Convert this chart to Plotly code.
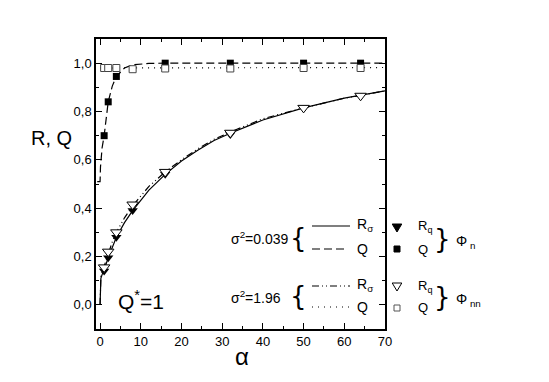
import plotly.graph_objects as go

# experimental points
alpha_sq_filled = [1, 2, 4, 16, 32, 50, 64]
q_sq_filled = [0.70, 0.84, 0.945, 1.0, 1.0, 1.0, 1.0]
alpha_sq_open = [1, 2, 4, 8, 16, 32, 50, 64]
q_sq_open = [0.98, 0.98, 0.98, 0.975, 0.978, 0.978, 0.98, 0.98]
alpha_tri_filled = [1, 2, 4, 8, 16, 32]
r_tri_filled = [0.14, 0.195, 0.28, 0.39, 0.54, 0.705]
alpha_tri_open = [1, 2, 4, 8, 16, 32, 50, 64]
r_tri_open = [0.155, 0.22, 0.30, 0.415, 0.55, 0.712, 0.815, 0.865]

# model curves
alpha_r = [0, 0.05, 0.2, 0.5, 1, 1.5, 2, 3, 4, 6, 8, 12, 16, 20, 24, 28, 32, 40, 50, 60, 70]
r_sigma_small = [0, 0.08, 0.11, 0.125, 0.145, 0.17, 0.195, 0.24, 0.28, 0.34, 0.39, 0.475, 0.54,
                 0.595, 0.64, 0.68, 0.71, 0.765, 0.815, 0.855, 0.885]
r_sigma_large = [0, 0.09, 0.12, 0.135, 0.16, 0.19, 0.215, 0.26, 0.30, 0.36, 0.41, 0.49, 0.55,
                 0.60, 0.645, 0.685, 0.715, 0.77, 0.815, 0.855, 0.885]
alpha_q = [-0.7, 0, 0.1, 0.25, 0.5, 1, 1.5, 2, 3, 4, 6, 8, 12, 16, 32, 50, 70]
q_small = [0.51, 0.51, 0.57, 0.61, 0.65, 0.70, 0.78, 0.84, 0.905, 0.945, 0.98, 0.993, 0.999,
           1.0, 1.0, 1.0, 1.0]
alpha_q_large = [0, 70]
q_large = [0.98, 0.982]

FONT = "Liberation Sans, Arial, sans-serif"
DASH = "8px,4px"
DOT = "1px,5px"
DASHDOT = "7px,3px,1px,3px,1px,3px"

# the page body has an 8px margin, so the figure is drawn 8px smaller
OFF = 8
W, H = 549 - OFF, 382 - OFF
# plot area in window pixels
L, R, T, B = 96, 385, 39, 329


def px(x, y):
    # window pixel position -> paper coordinates
    return (x - L) / (R - L), (B - y) / (B - T)


fig = go.Figure()

fig.add_trace(go.Scatter(x=alpha_r, y=r_sigma_small, mode='lines', line=dict(color='black', width=1.2)))
fig.add_trace(go.Scatter(x=alpha_r, y=r_sigma_large, mode='lines', line=dict(color='black', width=1.2, dash=DASHDOT)))
fig.add_trace(go.Scatter(x=alpha_q, y=q_small, mode='lines', line=dict(color='black', width=1.2, dash=DASH)))
fig.add_trace(go.Scatter(x=alpha_q_large, y=q_large, mode='lines', line=dict(color='black', width=1.2, dash=DOT)))

fig.add_trace(go.Scatter(x=alpha_tri_filled, y=r_tri_filled, mode='markers',
                         marker=dict(symbol='triangle-down', size=9, color='black')))
fig.add_trace(go.Scatter(x=alpha_tri_open, y=r_tri_open, mode='markers',
                         marker=dict(symbol='triangle-down', size=10, color='white',
                                     line=dict(color='black', width=1))))
fig.add_trace(go.Scatter(x=alpha_sq_filled, y=q_sq_filled, mode='markers',
                         marker=dict(symbol='square', size=7, color='black')))
fig.add_trace(go.Scatter(x=alpha_sq_open, y=q_sq_open, mode='markers',
                         marker=dict(symbol='square', size=7, color='white',
                                     line=dict(color='#444', width=1))))

shapes = []
# legend line samples
for x0, x1, y, dash in [(312, 350, 226, None), (312, 348, 249, DASH),
                        (312, 350, 286, DASHDOT), (312, 350, 307, DOT)]:
    a = px(x0, y)
    b = px(x1, y)
    shapes.append(dict(type='line', xref='paper', yref='paper', x0=a[0], y0=a[1], x1=b[0], y1=b[1],
                       line=dict(color='black', width=1.2, dash=dash)))


def tri_path(cx, cy, h):
    p1 = px(cx - h * 0.6, cy - h / 2)
    p2 = px(cx + h * 0.6, cy - h / 2)
    p3 = px(cx, cy + h / 2)
    return "M {} {} L {} {} L {} {} Z".format(p1[0], p1[1], p2[0], p2[1], p3[0], p3[1])


shapes.append(dict(type='path', xref='paper', yref='paper', path=tri_path(397, 228, 8),
                   fillcolor='black', line=dict(color='black', width=1)))
shapes.append(dict(type='path', xref='paper', yref='paper', path=tri_path(397, 287, 8),
                   fillcolor='white', line=dict(color='black', width=1)))
for cy, fill, col in [(249, 'black', 'black'), (308, 'white', '#555')]:
    a = px(394, cy - 3)
    b = px(400, cy + 3)
    shapes.append(dict(type='rect', xref='paper', yref='paper', x0=a[0], y0=a[1], x1=b[0], y1=b[1],
                       fillcolor=fill, line=dict(color=col, width=1)))

texts = [
    (291, 238, "σ<sup>2</sup>=0.039", 14, 'right'),
    (283, 297, "σ<sup>2</sup>=1.96", 14, 'right'),
    (355, 225, "R<sub>σ</sub>", 14, 'left'),
    (355, 249, "Q", 14, 'left'),
    (355, 285, "R<sub>σ</sub>", 14, 'left'),
    (355, 307, "Q", 14, 'left'),
    (416, 226, "R<sub>q</sub>", 13, 'left'),
    (416, 249, "Q", 13, 'left'),
    (416, 286, "R<sub>q</sub>", 13, 'left'),
    (416, 307, "Q", 13, 'left'),
    (454, 242, "Φ<sub> n</sub>", 14, 'left'),
    (454, 300, "Φ<sub> nn</sub>", 14, 'left'),
    (116, 300, "Q<sup>*</sup>=1", 21, 'left'),
    (51, 138, "R, Q", 20, 'center'),
    (242, 356, "α", 24, 'center'),
]
annotations = []
for x, y, t, size, xa in texts:
    p = px(x, y)
    annotations.append(dict(x=p[0], y=p[1], xref='paper', yref='paper', text=t, showarrow=False,
                            xanchor=xa, yanchor='middle',
                            font=dict(family=FONT, size=size, color='black')))
for x, y, t in [(298, 238, "{"), (298, 296, "{"), (442, 239, "}"), (442, 297, "}")]:
    p = px(x, y)
    annotations.append(dict(x=p[0], y=p[1], xref='paper', yref='paper', text=t, showarrow=False,
                            xanchor='center', yanchor='middle', borderpad=0,
                            font=dict(family="DejaVu Sans", size=26, color='black')))

axis_common = dict(showline=True, linecolor='black', linewidth=1.5, mirror='ticks', ticks='inside',
                   ticklen=6, tickwidth=1, tickcolor='black', showgrid=False, zeroline=False,
                   tickfont=dict(family=FONT, size=13, color='black'))

fig.update_layout(
    width=W, height=H,
    margin=dict(l=L - OFF, r=549 - R, t=T - OFF, b=382 - B),
    plot_bgcolor='white', paper_bgcolor='white',
    showlegend=False,
    separators=',.',
    xaxis=dict(range=[-1, 70], tickvals=[0, 10, 20, 30, 40, 50, 60, 70],
               minor=dict(tickvals=[5, 15, 25, 35, 45, 55, 65], ticklen=3, ticks='inside', tickcolor='black'),
               **axis_common),
    yaxis=dict(range=[-0.1, 1.1], tickvals=[0, 0.2, 0.4, 0.6, 0.8, 1.0], tickformat='.1f',
               minor=dict(tickvals=[-0.1, 0.1, 0.3, 0.5, 0.7, 0.9, 1.1], ticklen=3, ticks='inside', tickcolor='black'),
               **axis_common),
    shapes=shapes,
    annotations=annotations,
)

fig.write_html("out.html")
